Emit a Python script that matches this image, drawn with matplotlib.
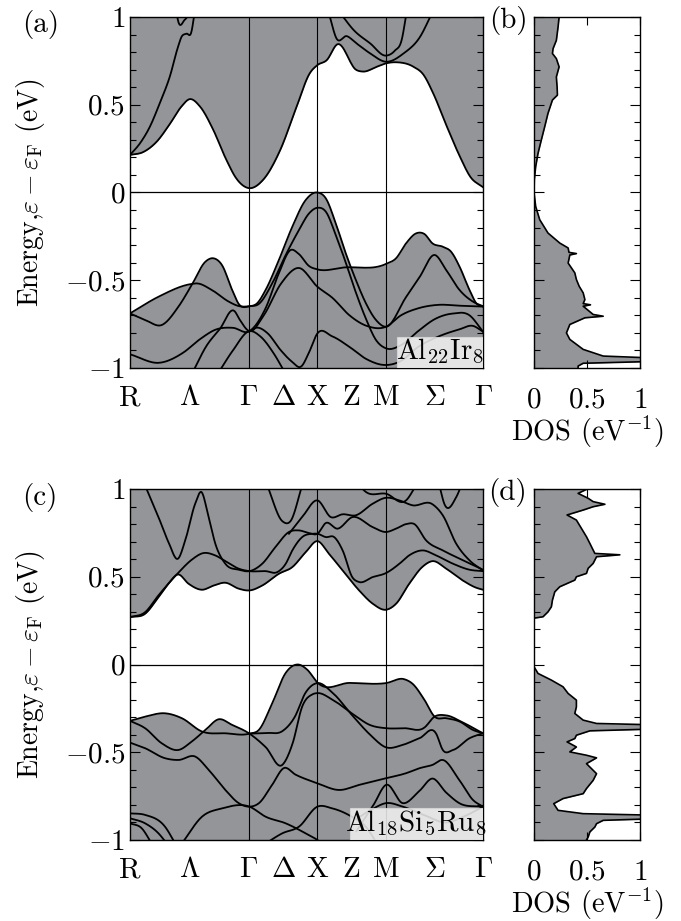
import numpy as np
import matplotlib
matplotlib.use("Agg")
import matplotlib.pyplot as plt
from matplotlib.ticker import MultipleLocator
from matplotlib.patches import Rectangle

# k-path R - Gamma - X - M - Gamma (units of pi/a, simple cubic)
K_R, K_G, K_X, K_M, K_G2 = 0.0, 1.732, 2.732, 3.732, 5.146
PATH_TICKS = [K_R, (K_R + K_G) / 2, K_G, (K_G + K_X) / 2, K_X,
              (K_X + K_M) / 2, K_M, (K_M + K_G2) / 2, K_G2]
PATH_LABELS = ["R", r"$\Lambda$", r"$\Gamma$", r"$\Delta$", "X", "Z", "M",
               r"$\Sigma$", r"$\Gamma$"]

# ---- Al22Ir8 bands, (k, E) ----
A_CB1 = [(0, .214), (.19, .23), (.39, .29), (.58, .39), (.75, .49), (.87, .532),
         (1.02, .49), (1.21, .36), (1.40, .19), (1.55, .08), (1.732, .025),
         (1.94, .072), (2.19, .242), (2.43, .49), (2.62, .679), (2.732, .726),
         (2.87, .755), (3.02, .844), (3.30, .698), (3.40, .689), (3.60, .717),
         (3.732, .736), (3.89, .742), (4.13, .717), (4.28, .67), (4.42, .565),
         (4.62, .375), (4.81, .204), (4.96, .09), (5.146, .03)]
A_CB2 = [(0, .214), (.145, .28), (.29, .375), (.435, .51), (.58, .66), (.70, .83),
         (.75, .886), (.82, .905), (.895, .915), (.94, 1.02)]
A_CB3 = [(.68, 1.02), (.70, .98), (.80, .985), (.87, 1.02)]
A_CB4 = [(2.90, 1.02), (3.01, .878), (3.16, .891), (3.30, .85), (3.50, .793),
         (3.732, .745), (3.99, .793), (4.23, .888), (4.40, 1.02)]
A_CB5 = [(3.07, 1.02), (3.26, .926), (3.50, .85), (3.732, .78), (3.86, .808),
         (3.96, .869), (4.03, 1.02)]

A_VB1 = [(0, -.689), (.415, -.594), (.90, -.521), (.976, -.518), (1.195, -.556),
         (1.44, -.622), (1.585, -.647), (1.742, -.648), (1.878, -.635),
         (2.073, -.518), (2.27, -.356), (2.463, -.214), (2.61, -.119),
         (2.732, -.087), (2.854, -.109), (3.0, -.242), (3.146, -.40),
         (3.293, -.57), (3.44, -.72), (3.585, -.84), (3.732, -.888), (3.95, -.87),
         (4.2, -.79), (4.45, -.72), (4.7, -.69), (4.95, -.70), (5.146, -.793)]
A_VB2 = [(0, -.689), (.22, -.726), (.463, -.755), (.707, -.65), (.90, -.527),
         (1.10, -.394), (1.22, -.375), (1.34, -.413), (1.49, -.556),
         (1.585, -.635), (1.742, -.648), (1.854, -.631), (1.976, -.556),
         (2.17, -.385), (2.366, -.195), (2.561, -.043), (2.732, 0.0),
         (2.854, -.033), (3.0, -.176), (3.146, -.347), (3.293, -.499),
         (3.44, -.632), (3.585, -.726), (3.732, -.765), (4.024, -.596),
         (4.22, -.483), (4.44, -.356), (4.61, -.442), (4.805, -.556),
         (5.0, -.622), (5.146, -.648)]
A_VB3 = [(0, -.922), (.435, -.97), (.774, -.913), (1.016, -.837), (1.258, -.78),
         (1.50, -.771), (1.742, -.79), (1.976, -.66), (2.17, -.46), (2.34, -.328),
         (2.46, -.35), (2.61, -.419), (2.732, -.438), (3.12, -.427),
         (3.732, -.407), (3.878, -.375), (4.024, -.29), (4.17, -.233),
         (4.29, -.236), (4.41, -.29), (4.56, -.309), (4.68, -.337),
         (4.805, -.423), (4.95, -.556), (5.05, -.632), (5.146, -.65)]
A_VB4 = [(.92, -1.02), (1.113, -.875), (1.306, -.78), (1.524, -.676),
         (1.597, -.723), (1.742, -.79), (1.95, -.70), (2.2, -.52), (2.46, -.43),
         (2.732, -.537), (2.95, -.60), (3.2, -.70), (3.45, -.76), (3.732, -.765),
         (3.95, -.70), (4.2, -.66), (4.5, -.64), (4.8, -.645), (5.146, -.65)]
A_VB5 = [(1.742, -.79), (1.85, -.77), (2.0, -.80), (2.2, -.90), (2.35, -.96),
         (2.5, -.99), (2.6, -.92), (2.732, -.803), (2.95, -.82), (3.2, -.88),
         (3.45, -.95), (3.732, -.983), (3.95, -.96), (4.2, -.88), (4.5, -.82),
         (4.8, -.78), (5.0, -.76), (5.146, -.793)]
A_VB6 = [(1.30, -1.02), (1.50, -.90), (1.742, -.79), (1.9, -.82), (2.1, -.92),
         (2.25, -1.02)]

# ---- Al18Si5Ru8 bands ----
C_CB1 = [(0, .27), (.22, .289), (.415, .384), (.56, .46), (.70, .513), (.854, .46),
         (1.05, .426), (1.22, .45), (1.39, .466), (1.585, .432), (1.742, .422),
         (1.927, .45), (2.17, .517), (2.366, .555), (2.561, .64), (2.732, .703),
         (2.90, .631), (3.10, .536), (3.34, .422), (3.54, .346), (3.732, .312),
         (3.878, .346), (4.07, .46), (4.27, .559), (4.41, .589), (4.61, .546),
         (4.85, .479), (5.05, .437), (5.146, .426)]
C_CB2 = [(0, .27), (.22, .298), (.415, .394), (.70, .521), (.90, .597), (1.07, .635),
         (1.24, .622), (1.39, .589), (1.585, .546), (1.742, .532), (1.976, .532),
         (2.15, .527), (2.27, .574), (2.366, .65), (2.51, .726), (2.66, .745),
         (2.732, .745), (2.854, .726), (2.976, .726), (3.10, .65), (3.24, .498),
         (3.34, .47), (3.537, .498), (3.732, .521), (3.927, .574), (4.07, .622),
         (4.27, .65), (4.46, .622), (4.71, .574), (4.95, .54), (5.146, .532)]
C_CB3 = [(.22, 1.02), (.415, .84), (.56, .698), (.70, .603), (.805, .707),
         (.95, .916), (1.04, .983), (1.146, .84), (1.244, .688), (1.39, .574),
         (1.585, .54), (1.742, .532), (1.927, .574), (2.12, .669), (2.317, .755),
         (2.463, .764), (2.61, .749), (2.732, .745), (2.854, .806), (3.024, .774),
         (3.244, .84), (3.537, .783), (3.732, .755), (3.878, .774), (4.024, .80),
         (4.146, .80), (4.317, .707), (4.56, .65), (4.805, .603), (5.146, .54)]
C_CB4 = [(2.0, 1.02), (2.22, .817), (2.34, .817), (2.51, 1.02)]
C_CB5 = [(2.317, .745), (2.51, .84), (2.732, .935), (2.927, .84), (3.1, .856),
         (3.29, .85), (3.537, .916), (3.732, .95), (3.927, .935), (4.12, .907),
         (4.41, .913), (4.56, .85), (4.756, .688), (4.95, .593), (5.146, .536)]
C_CB6 = [(3.34, 1.02), (3.44, .983), (3.732, .973), (4.024, .935), (4.17, 1.02)]
C_CB7 = [(4.51, 1.02), (4.585, .913), (4.756, .954), (4.83, 1.02)]

C_VB1 = [(0, -.321), (.22, -.297), (.512, -.278), (.756, -.306), (1.05, -.382),
         (1.39, -.392), (1.742, -.394), (1.878, -.373), (2.073, -.221),
         (2.268, -.049), (2.44, 0.0), (2.585, -.03), (2.732, -.103), (3.2, -.105),
         (3.732, -.106), (4.0, -.084), (4.12, -.11), (4.29, -.2), (4.44, -.297),
         (4.61, -.306), (4.805, -.325), (5.0, -.373), (5.146, -.392)]
C_VB2 = [(0, -.321), (.22, -.363), (.463, -.449), (.707, -.487), (.90, -.439),
         (1.10, -.373), (1.293, -.312), (1.488, -.344), (1.742, -.394),
         (1.976, -.47), (2.22, -.572), (2.37, -.45), (2.51, -.24), (2.66, -.17),
         (2.732, -.163), (2.95, -.2), (3.24, -.28), (3.5, -.345), (3.732, -.363),
         (4.0, -.363), (4.29, -.36), (4.44, -.297), (4.61, -.29), (4.85, -.33),
         (5.146, -.392)]
C_VB3 = [(1.742, -.394), (2.0, -.39), (2.22, -.38), (2.4, -.30), (2.56, -.16),
         (2.65, -.12), (2.732, -.106), (2.95, -.16), (3.24, -.29), (3.5, -.40),
         (3.732, -.472), (3.976, -.458), (4.22, -.42), (4.46, -.392),
         (4.56, -.487), (4.71, -.487), (4.95, -.42), (5.146, -.392)]
C_VB4 = [(0, -.445), (.22, -.477), (.51, -.534), (.707, -.544), (.953, -.525),
         (1.146, -.6), (1.39, -.715), (1.585, -.79), (1.742, -.81), (1.88, -.79),
         (2.07, -.687), (2.244, -.59), (2.415, -.628), (2.66, -.667),
         (2.732, -.677), (3.05, -.715), (3.34, -.686), (3.732, -.648),
         (4.02, -.62), (4.22, -.591), (4.41, -.572), (4.56, -.544), (4.8, -.658),
         (5.0, -.772), (5.146, -.81)]
C_VB5 = [(.756, -1.02), (1.05, -.867), (1.34, -.82), (1.742, -.81), (1.976, -.867),
         (2.27, -.905), (2.56, -.962), (2.732, -1.0), (2.8, -1.02)]
C_VB6 = [(1.976, -1.02), (2.22, -.962), (2.463, -.924), (2.732, -.81), (2.95, -.82),
         (3.2, -.86), (3.45, -.93), (3.6, -1.02)]
C_VB7 = [(3.3, -.95), (3.55, -.80), (3.732, -.686), (3.976, -.79), (4.22, -.72),
         (4.41, -.65), (4.61, -.73), (4.8, -.79), (5.146, -.81)]
C_VB8 = [(3.3, -.88), (3.55, -.82), (3.732, -.79), (3.976, -.81), (4.3, -.86),
         (4.6, -.9), (4.9, -.86), (5.146, -.81)]
C_VB9 = [(0, -.848), (.22, -.857), (.51, -.924), (.66, -1.02)]
C_VB10 = [(0, -.876), (.22, -.905), (.415, -.962), (.537, -1.02)]
C_VB11 = [(0, -.905), (.17, -.933), (.317, -1.02)]

# ---- DOS curves (energy, states/eV) ----
B_DOS_E = [1.0, .943, .867, .82, .792, .763, .716, .659, .602, .555, .527, .451,
           .375, .299, .223, .148, .072, 0.0, -.08, -.155, -.231, -.288, -.316,
           -.341, -.348, -.356, -.402, -.458, -.496, -.534, -.572, -.61, -.633,
           -.64, -.648, -.695, -.705, -.714, -.752, -.8, -.837, -.894, -.932,
           -.947, -.96, -.973, -.989, -1.0]
B_DOS = [.237, .227, .211, .18, .174, .211, .237, .211, .218, .221, .174, .132,
         .101, .069, .038, .016, .003, 0.0, .016, .054, .132, .243, .322,
         .33, .40, .338, .322, .385, .40, .426, .464, .48, .464,
         .533, .464, .558, .653, .48, .338, .306, .338, .464, .653,
         1.3, 1.3, .464, .416, .416]

D_DOS_E = [.998, .975, .947, .928, .913, .899, .88, .852, .823, .785, .728, .69,
           .652, .633, .625, .614, .595, .576, .548, .519, .5, .481, .443, .414,
           .367, .329, .3, .272, .264, 0.0, -.013, -.051, -.089, -.127, -.165,
           -.203, -.241, -.279, -.317, -.336, -.346, -.365, -.378, -.403, -.422,
           -.441, -.47, -.498, -.517, -.532, -.565, -.622, -.66, -.707, -.736,
           -.764, -.793, -.831, -.85, -.861, -.876, -.888, -.907, -.926, -.954,
           -.983, -1.0]
D_DOS = [.495, .416, .511, .558, .669, .558, .464, .312, .40, .438, .495, .527,
         .558, .574, .81, .59, .574, .558, .511, .495, .40, .385, .243, .196,
         .174, .164, .132, .085, 0.0, 0.0, 0.0, .038, .164, .274, .322,
         .40, .40, .385, .464, .59, 1.3, 1.3, .527, .40, .385,
         .312, .40, .338, .495, .59, .495, .59, .558, .495, .464,
         .274, .186, .227, .464, 1.3, 1.3, .653, .59, .574, .527,
         .511, .495]

GRAY = "#939598"
FS = 21

plt.rcParams.update({
    "font.family": "serif",
    "font.serif": ["cmr10"],
    "mathtext.fontset": "cm",
    "axes.unicode_minus": False,
    "axes.formatter.use_mathtext": True,
    "axes.linewidth": 1.0,
})


def smooth(pts, n=16):
    """Cubic Hermite resampling of a band given as (k, E) points."""
    k, e = np.asarray(pts, dtype=float).T
    m = np.gradient(e, k)
    t = np.linspace(0, 1, n, endpoint=False)
    h00 = 2 * t**3 - 3 * t**2 + 1
    h10 = t**3 - 2 * t**2 + t
    h01 = -2 * t**3 + 3 * t**2
    h11 = t**3 - t**2
    ks, es = [], []
    for i in range(len(k) - 1):
        h = k[i + 1] - k[i]
        ks.append(k[i] + t * h)
        es.append(h00 * e[i] + h10 * h * m[i] + h01 * e[i + 1] + h11 * h * m[i + 1])
    ks.append([k[-1]])
    es.append([e[-1]])
    return np.concatenate(ks), np.concatenate(es)


def style_energy_axis(ax):
    ax.set_ylim(-1, 1)
    ax.set_yticks([-1, -0.5, 0, 0.5, 1])
    ax.yaxis.set_minor_locator(MultipleLocator(0.1))
    ax.tick_params(axis="y", which="both", direction="in", left=True, right=True)
    ax.tick_params(axis="y", which="major", length=7, width=0.8)
    ax.tick_params(axis="y", which="minor", length=4, width=0.8)


def draw_bands(ax, cond, val, name, name_xy, box):
    kk = np.linspace(K_R, K_G2, 2000)
    cc = [smooth(b) for b in cond]
    vv = [smooth(b) for b in val]
    low = np.nanmin([np.interp(kk, k, e, left=np.nan, right=np.nan) for k, e in cc], axis=0)
    high = np.nanmax([np.interp(kk, k, e, left=np.nan, right=np.nan) for k, e in vv], axis=0)
    ax.fill_between(kk, low, 1.1, color=GRAY, lw=0)
    ax.fill_between(kk, -1.1, high, color=GRAY, lw=0)
    for k, e in cc + vv:
        ax.plot(k, e, color="black", lw=1.3, solid_joinstyle="round")
    for kx in (K_G, K_X, K_M):
        ax.axvline(kx, color="black", lw=0.8)
    ax.axhline(0, color="black", lw=0.9)

    ax.set_xlim(K_R, K_G2)
    ax.set_xticks(PATH_TICKS)
    ax.set_xticklabels(PATH_LABELS, fontsize=FS)
    ax.tick_params(axis="x", length=0, pad=12)
    style_energy_axis(ax)
    ax.set_yticklabels([r"$-1$", r"$-0.5$", r"$0$", r"$0.5$", r"$1$"], fontsize=FS)
    ax.set_ylabel(r"Energy,$\varepsilon-\varepsilon_{\rm F}$ (eV)", fontsize=20)
    ax.yaxis.set_label_coords(-0.235, 0.50)

    ax.add_patch(Rectangle(box[:2], box[2], box[3], transform=ax.transAxes,
                           facecolor="#f3f3f3", edgecolor="#d8d8d8", lw=0.8,
                           alpha=0.85, zorder=5))
    ax.text(*name_xy, name, transform=ax.transAxes, ha="center", va="center",
            fontsize=FS, zorder=6)


def draw_dos(ax, energy, dos):
    ax.fill_betweenx(energy, 0, dos, color=GRAY, lw=0)
    ax.plot(dos, energy, color="black", lw=1.2)
    ax.set_xlim(0, 1)
    ax.set_xticks([0, 0.5, 1])
    ax.set_xticklabels([r"$0$", r"$0.5$", r"$1$"], fontsize=FS)
    ax.tick_params(axis="x", direction="in", top=True, bottom=True, length=6,
                   width=0.8, pad=14)
    style_energy_axis(ax)
    ax.set_yticklabels([])
    ax.set_xlabel(r"DOS (eV$^{-1}$)", fontsize=20.5, labelpad=0)


W, H = 681, 921
fig = plt.figure(figsize=(W / 100, H / 100), dpi=100)
ax_a = fig.add_axes([130 / W, 1 - 368 / H, 353 / W, 351 / H])
ax_b = fig.add_axes([534 / W, 1 - 368 / H, 106 / W, 351 / H])
ax_c = fig.add_axes([130 / W, 1 - 840 / H, 353 / W, 351 / H])
ax_d = fig.add_axes([534 / W, 1 - 840 / H, 106 / W, 351 / H])

draw_bands(ax_a, [A_CB1, A_CB2, A_CB3, A_CB4, A_CB5],
           [A_VB1, A_VB2, A_VB3, A_VB4, A_VB5, A_VB6],
           r"Al$_{22}$Ir$_8$", (0.878, 0.046), (0.756, 0.0, 0.244, 0.088))
draw_bands(ax_c, [C_CB1, C_CB2, C_CB3, C_CB4, C_CB5, C_CB6, C_CB7],
           [C_VB1, C_VB2, C_VB3, C_VB4, C_VB5, C_VB6, C_VB7, C_VB8, C_VB9,
            C_VB10, C_VB11],
           r"Al$_{18}$Si$_5$Ru$_8$", (0.81, 0.048), (0.623, 0.0, 0.377, 0.09))
draw_dos(ax_b, B_DOS_E, B_DOS)
draw_dos(ax_d, D_DOS_E, D_DOS)

for lab, x, y in (("(a)", 22, 10), ("(b)", 489, 6), ("(c)", 22, 483), ("(d)", 488, 478)):
    fig.text(x / W, 1 - y / H, lab, fontsize=FS, ha="left", va="top")

fig.savefig("out.png", dpi=100)
